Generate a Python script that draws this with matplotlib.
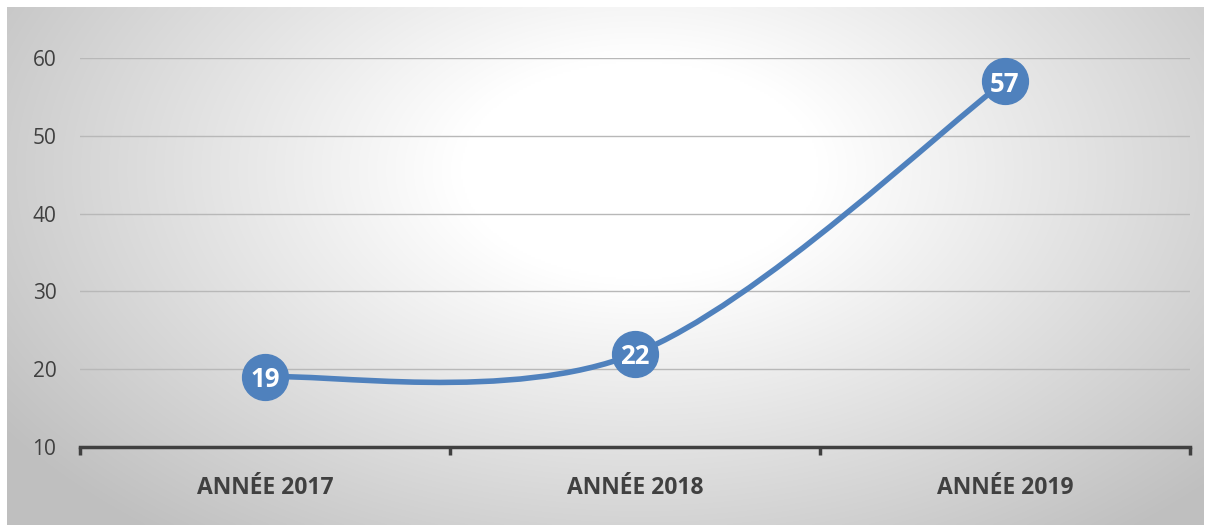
import numpy as np
import matplotlib
matplotlib.use("Agg")
import matplotlib.pyplot as plt
from matplotlib.path import Path
from matplotlib.patches import PathPatch

categories = ["ANNÉE 2017", "ANNÉE 2018", "ANNÉE 2019"]
values = [19, 22, 57]
y_ticks = [10, 20, 30, 40, 50, 60]

W, H = 1210, 525
fig = plt.figure(figsize=(W / 100, H / 100), dpi=100)
fig.patch.set_facecolor("white")

# radial gradient background
bg = fig.add_axes([7 / W, 0, (1204 - 7) / W, (H - 7) / H])
bg.set_axis_off()
nx, ny = 600, 260
xx, yy = np.meshgrid(np.linspace(7, 1204, nx), np.linspace(7, 525, ny))
cx, cy = 640, 170
r = np.sqrt(((xx - cx) / 720) ** 2 + ((yy - cy) / 440) ** 2)
t = np.clip((r - 0.25) / 0.82, 0, 1)
g = 1.0 - 0.25 * t
img = np.dstack([g, g, g])
bg.imshow(img, aspect="auto", extent=[0, 1, 0, 1], origin="upper", interpolation="bilinear")
bg.set_xlim(0, 1); bg.set_ylim(0, 1)

# main axes: x 80..1190 px, y60 at 58 px, y10 at 447 px
left, right = 80 / W, 1190 / W
top_px, bot_px = 58, 447
ax = fig.add_axes([left, 1 - bot_px / H, right - left, (bot_px - top_px) / H])
ax.patch.set_alpha(0)
ax.set_xlim(-0.5, len(categories) - 0.5)
ax.set_ylim(10, 60)
ax.set_yticks(y_ticks)
ax.set_yticklabels([str(v) for v in y_ticks], fontsize=15, color="#404040", family="Open Sans")
ax.tick_params(axis="y", length=0, pad=17)
ax.set_xticks(range(len(categories)))
ax.set_xticklabels(categories, fontsize=16.5, fontweight="bold", color="#404040", family="Open Sans")
ax.tick_params(axis="x", length=0, pad=21)
for s in ["top", "right", "left"]:
    ax.spines[s].set_visible(False)
ax.spines["bottom"].set_color("#404040")
ax.spines["bottom"].set_linewidth(2.5)
for v in y_ticks[1:]:
    ax.axhline(v, color="#b8b8b8", lw=1.0, zorder=1)
# boundary tick marks
for xb in np.arange(-0.5, len(categories), 1.0):
    ax.plot([xb, xb], [10, 10 - 1.0], color="#404040", lw=2.5, clip_on=False, solid_capstyle="butt", zorder=3)

# Smoothed (Catmull-Rom style Bezier) line
xs = np.arange(len(values), dtype=float)
ys = np.array(values, dtype=float)
pts = np.column_stack([xs, ys])
verts = [pts[0]]
codes = [Path.MOVETO]
n = len(pts)
for i in range(n - 1):
    p0 = pts[i - 1] if i > 0 else pts[i]
    p1 = pts[i]
    p2 = pts[i + 1]
    p3 = pts[i + 2] if i + 2 < n else pts[i + 1]
    c1 = p1 + (p2 - p0) / 6
    c2 = p2 - (p3 - p1) / 6
    verts += [c1, c2, p2]
    codes += [Path.CURVE4] * 3
path = Path(verts, codes)
ax.add_patch(PathPatch(path, facecolor="none", edgecolor="#4f81bd", lw=4, zorder=4,
                       capstyle="round", clip_on=False))

ax.plot(xs, ys, "o", ms=33, color="#4f81bd", mec="#4f81bd", zorder=5, clip_on=False)
for x, v in zip(xs, ys):
    ax.text(x, v, f"{int(v)}", ha="center", va="center_baseline", fontsize=18.5,
            fontweight="bold", color="white", family="Open Sans", zorder=6)

fig.savefig("out.png", dpi=100, facecolor="white")
